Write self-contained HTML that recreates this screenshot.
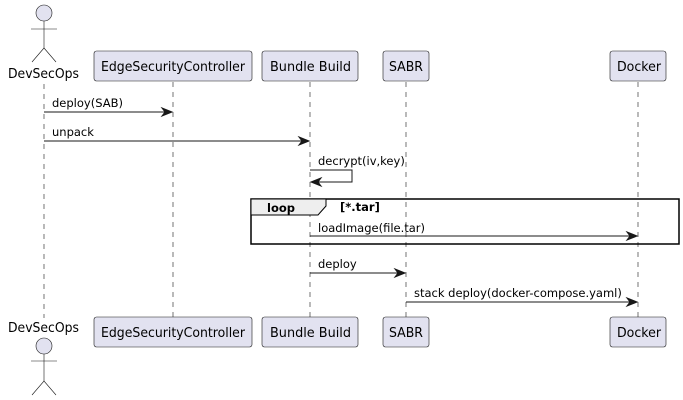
<!DOCTYPE html>
<html><head><meta charset="utf-8"><style>
html,body{margin:0;padding:0;background:#fff;}
svg{display:block;}
text{font-family:"DejaVu Sans","Liberation Sans",sans-serif;font-size:11.5px;fill:#000;}
.p{font-size:13.5px;}
</style></head><body>
<svg width="683" height="400" viewBox="0 0 683 400" xmlns="http://www.w3.org/2000/svg">
<g stroke="#181818" stroke-width="0.6" stroke-dasharray="5,5">
<line x1="44" y1="84" x2="44" y2="318"/>
<line x1="173" y1="82" x2="173" y2="318"/>
<line x1="310" y1="82" x2="310" y2="318"/>
<line x1="406" y1="82" x2="406" y2="318"/>
<line x1="638" y1="82" x2="638" y2="318"/>
</g>
<g stroke="#181818" stroke-width="0.6" fill="#E2E2F0">
<circle cx="44" cy="13" r="8"/>
<line x1="44" y1="21" x2="44" y2="48"/>
<line x1="31" y1="29" x2="57" y2="29"/>
<line x1="44" y1="48" x2="32" y2="62"/>
<line x1="44" y1="48" x2="56" y2="62"/>
<circle cx="44" cy="346" r="8"/>
<line x1="44" y1="354" x2="44" y2="381"/>
<line x1="31" y1="361" x2="57" y2="361"/>
<line x1="44" y1="381" x2="32" y2="395"/>
<line x1="44" y1="381" x2="56" y2="395"/>
</g>
<text class="p" x="8" y="78" textLength="71" lengthAdjust="spacingAndGlyphs">DevSecOps</text>
<text class="p" x="8" y="332" textLength="71" lengthAdjust="spacingAndGlyphs">DevSecOps</text>
<g fill="#E2E2F0" stroke="#181818" stroke-width="0.6">
<rect x="94" y="51" width="158" height="30" rx="2.5"/>
<rect x="262" y="51" width="96" height="30" rx="2.5"/>
<rect x="383" y="51" width="46" height="30" rx="2.5"/>
<rect x="610" y="51" width="56" height="30" rx="2.5"/>
<rect x="94" y="317" width="158" height="30" rx="2.5"/>
<rect x="262" y="317" width="96" height="30" rx="2.5"/>
<rect x="383" y="317" width="46" height="30" rx="2.5"/>
<rect x="610" y="317" width="56" height="30" rx="2.5"/>
</g>
<text class="p" x="101" y="71" textLength="144" lengthAdjust="spacingAndGlyphs">EdgeSecurityController</text>
<text class="p" x="270" y="71" textLength="81" lengthAdjust="spacingAndGlyphs">Bundle Build</text>
<text class="p" x="389" y="71" textLength="34" lengthAdjust="spacingAndGlyphs">SABR</text>
<text class="p" x="617" y="71" textLength="44" lengthAdjust="spacingAndGlyphs">Docker</text>
<text class="p" x="101" y="337" textLength="144" lengthAdjust="spacingAndGlyphs">EdgeSecurityController</text>
<text class="p" x="270" y="337" textLength="81" lengthAdjust="spacingAndGlyphs">Bundle Build</text>
<text class="p" x="389" y="337" textLength="34" lengthAdjust="spacingAndGlyphs">SABR</text>
<text class="p" x="617" y="337" textLength="44" lengthAdjust="spacingAndGlyphs">Docker</text>
<rect x="251" y="199" width="428" height="45" fill="none" stroke="#000" stroke-width="1.5"/>
<path d="M251 199 H326 V206 L318 215 H251 Z" fill="#EEEEEE" stroke="#000" stroke-width="1"/>
<text x="267" y="212" font-weight="bold" font-size="12">loop</text>
<text x="340" y="211" font-weight="bold" font-size="9">[*.tar]</text>
<g stroke="#181818" stroke-width="1" fill="#181818">
<line x1="44" y1="112" x2="172" y2="112"/><path d="M162 108 L172 112 L162 116 L165 112 Z"/>
<line x1="44" y1="141" x2="309" y2="141"/><path d="M299 137 L309 141 L299 145 L302 141 Z"/>
<polyline points="310,170 352,170 352,182 311,182" fill="none"/><path d="M321 178 L311 182 L321 186 L318 182 Z"/>
<line x1="310" y1="236" x2="637" y2="236"/><path d="M627 232 L637 236 L627 240 L630 236 Z"/>
<line x1="310" y1="273" x2="405" y2="273"/><path d="M395 269 L405 273 L395 277 L398 273 Z"/>
<line x1="406" y1="302" x2="637" y2="302"/><path d="M627 298 L637 302 L627 306 L630 302 Z"/>
</g>
<text x="52" y="107">deploy(SAB)</text>
<text x="52" y="136">unpack</text>
<text x="318" y="165">decrypt(iv,key)</text>
<text x="318" y="232">loadImage(file.tar)</text>
<text x="318" y="268">deploy</text>
<text x="414" y="297">stack deploy(docker-compose.yaml)</text>
</svg>
</body></html>
